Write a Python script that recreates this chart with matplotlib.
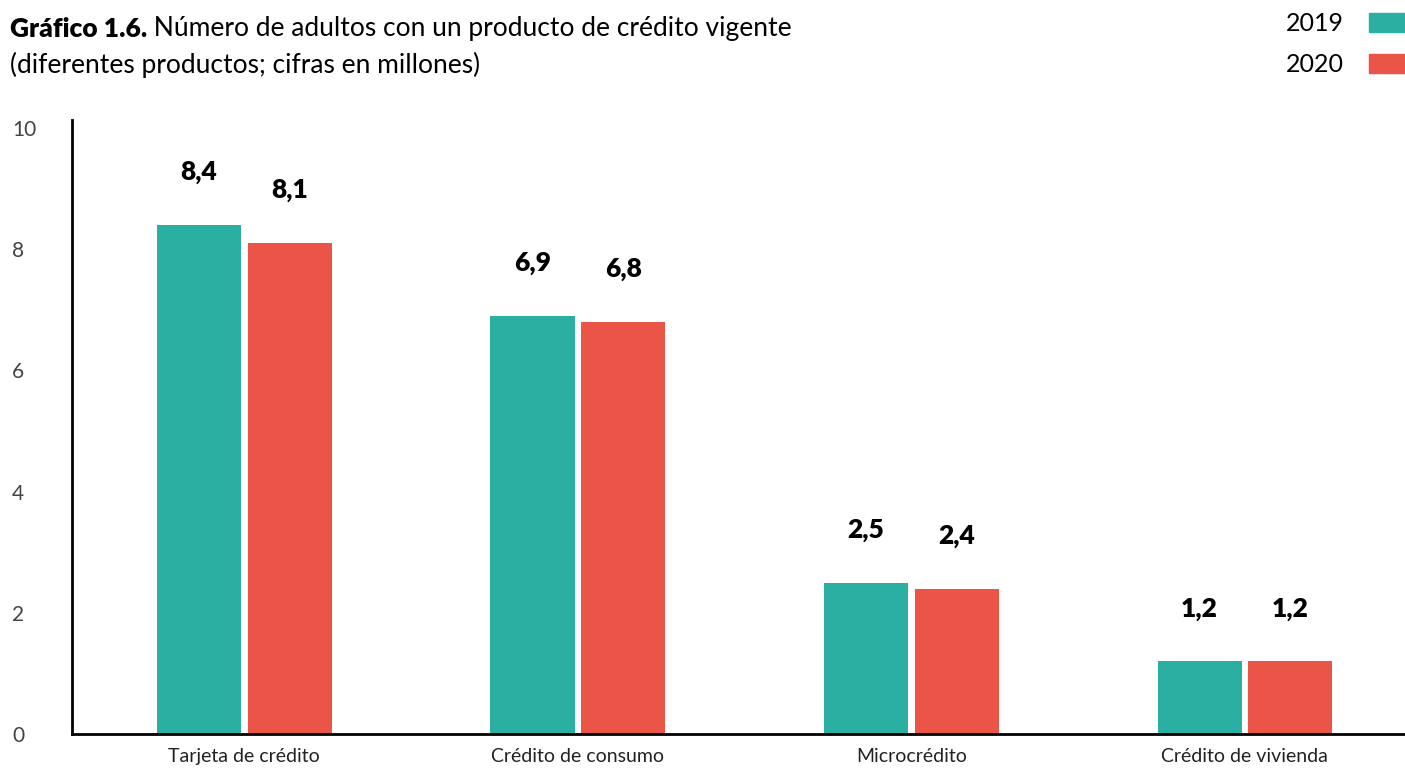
import matplotlib
matplotlib.use("Agg")
import numpy as np
import matplotlib.pyplot as plt
from matplotlib.patches import Patch

# ---------------------------------------------------------------------------
# DATA (millones de adultos)
# ---------------------------------------------------------------------------
categories = ["Tarjeta de crédito", "Crédito de consumo", "Microcrédito", "Crédito de vivienda"]
years = ["2019", "2020"]
values_2019 = [8.4, 6.9, 2.5, 1.2]
values_2020 = [8.1, 6.8, 2.4, 1.2]
y_ticks = [0, 2, 4, 6, 8, 10]

TEAL = "#2BAFA2"
RED = "#EA5547"

plt.rcParams["font.family"] = ["Lato", "DejaVu Sans"]

fig = plt.figure(figsize=(14.05, 7.71), dpi=100)
ax = fig.add_axes([0.0512, 0.048, 0.9488, 0.796])

x = np.arange(len(categories))
width = 0.252
offset = 0.136

bars_a = ax.bar(x - offset, values_2019, width, color=TEAL, label=years[0])
bars_b = ax.bar(x + offset, values_2020, width, color=RED, label=years[1])

# value labels above each bar, comma decimal
for bars, vals in ((bars_a, values_2019), (bars_b, values_2020)):
    for b, v in zip(bars, vals):
        ax.annotate(f"{v:.1f}".replace(".", ","),
                    xy=(b.get_x() + b.get_width() / 2, v),
                    xytext=(0, 38), textcoords="offset points",
                    ha="center", va="center", fontsize=19, fontweight="heavy",
                    color="black")

ax.set_xlim(-0.517, 3.48)
ax.set_ylim(0, 10.13)
ax.set_yticks(y_ticks)
ax.set_yticklabels([str(t) for t in y_ticks], fontsize=15, color="#444444")
ax.set_xticks(x)
ax.set_xticklabels(categories, fontsize=14, color="#222222")
ax.tick_params(axis="x", length=0, pad=10)
ax.tick_params(axis="y", length=0, pad=43)
for lbl in ax.get_yticklabels():
    lbl.set_horizontalalignment("left")

ax.spines["top"].set_visible(False)
ax.spines["right"].set_visible(False)
ax.spines["left"].set_linewidth(2)
ax.spines["bottom"].set_linewidth(2)

# title: bold lead + regular remainder
t1 = fig.text(0.007, 0.963, "Gráfico 1.6.", fontsize=19, fontweight="heavy",
              va="center", ha="left")
ax.annotate(" Número de adultos con un producto de crédito vigente",
            xy=(1, 0), xycoords=t1, va="bottom", ha="left", fontsize=19)
fig.text(0.007, 0.916, "(diferentes productos; cifras en millones)",
         fontsize=19, va="center", ha="left")

handles = [Patch(color=TEAL), Patch(color=RED)]
fig.legend(handles, years, loc="upper right", bbox_to_anchor=(1.0, 0.984),
           markerfirst=False, frameon=False, fontsize=18,
           handlelength=1.45, handleheight=0.8, handletextpad=1.0,
           labelspacing=0.72, borderaxespad=0.0, borderpad=0.0)

fig.savefig("out.png", dpi=100)
